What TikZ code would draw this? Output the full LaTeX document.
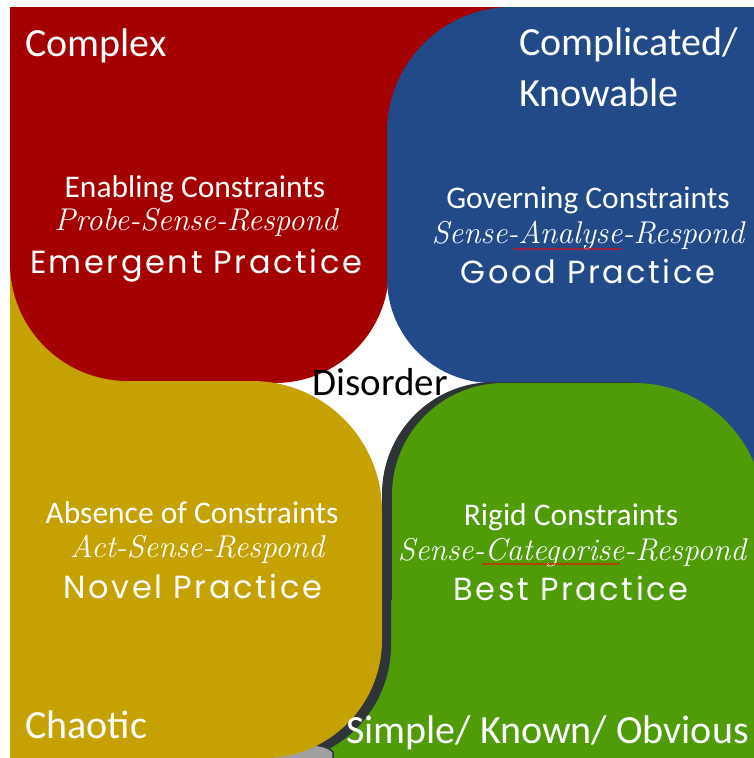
\documentclass[tikz,border=0pt]{standalone}
\usepackage{fontspec}
\usepackage{tikz}
\usetikzlibrary{decorations.pathmorphing}
\newfontfamily\calibrifont{Carlito}
\newfontfamily\chalkfont{Poppins}[LetterSpace=8]
\definecolor{complexred}{RGB}{165,0,0}
\definecolor{complicatedblue}{RGB}{34,74,136}
\definecolor{chaoticgold}{RGB}{198,161,2}
\definecolor{simplegreen}{RGB}{79,155,8}
\definecolor{shadowgrey}{RGB}{46,52,56}
\definecolor{blobgrey}{RGB}{160,160,160}
\tikzset{
	domainname/.style={text=white, inner sep=0pt, anchor=base west, font=\calibrifont\fontsize{40}{48}\selectfont},
	constraint/.style={text=white, inner sep=0pt, anchor=base, font=\calibrifont\fontsize{31.5}{36}\selectfont},
	approach/.style={text=white, inner sep=0pt, anchor=base, font=\itshape\fontsize{31.5}{36}\selectfont},
	practice/.style={text=white, inner sep=0pt, anchor=base, font=\chalkfont\fontsize{32}{38}\selectfont},
	spelling/.style={red, line width=0.6pt, decorate, decoration={snake, amplitude=0.8pt, segment length=3pt}}
}
% outlines of the domains (pixel units, y downwards)
\newcommand{\complexarea}{(10,7) -- (520,7) -- (520,200) -- (389,200) -- (389,269)
	arc[start angle=0, end angle=-90, radius=114pt] -- (128,381)
	arc[start angle=270, end angle=180, radius=118pt] -- cycle}
\newcommand{\complicatedarea}{(387,132) arc[start angle=180, end angle=90, radius=125pt]
	-- (760,7) -- (760,520) -- (600,520) -- (600,383) -- (492,383)
	arc[start angle=270, end angle=180, radius=105pt] -- cycle}
\newcommand{\simplearea}{(392,495) arc[start angle=180, end angle=90, radius=112pt]
	-- (634,383) arc[start angle=90, end angle=0, radius=130pt]
	-- (764,765) -- (250,765) -- (250,600) -- (392,600) -- cycle}
\newcommand{\chaoticarea}{(10,381) -- (252,381) arc[start angle=90, end angle=0, radius=130pt]
	-- (382,640) arc[start angle=0, end angle=-90, radius=118pt] -- (10,758) -- cycle}
\begin{document}
\begin{tikzpicture}[x=1pt, y=-1pt]
	\useasboundingbox (0,0) rectangle (754,758);
	% domains
	\fill[chaoticgold] (10,250) rectangle (140,385);
	\fill[complexred] \complexarea;
	\fill[complicatedblue] \complicatedarea;
	\fill[shadowgrey, xshift=-10pt, yshift=1pt] \simplearea;
	\fill[simplegreen] \simplearea;
	\begin{scope}
		\clip \simplearea;
		\fill[shadowgrey, xshift=9pt, yshift=-5pt] \chaoticarea;
	\end{scope}
	\filldraw[fill=blobgrey, draw=shadowgrey, line width=1.5pt]
	(268,760) .. controls (285,744) and (322,740) .. (333,752) -- (333,760) -- cycle;
	\fill[chaoticgold] \chaoticarea;
	% domain names
	\node[domainname] (complex) at (25,56) {Complex};
	\node[domainname] (complicated) at (519,55) {Complicated/};
	\node[domainname] (knowable) at (519,106) {Knowable};
	\node[domainname] (chaotic) at (25,738) {Chaotic};
	\node[domainname] (simple) at (346,743) {Simple/ Known/ Obvious};
	\node[anchor=base, inner sep=0pt, font=\calibrifont\fontsize{39}{46}\selectfont] (disorder) at (380,395) {Disorder};
	% complex
	\node[constraint] (enabling) at (195,197) {Enabling Constraints};
	\node[approach] (probe) at (196,230) {Probe-Sense-Respond};
	\node[practice] (emergent) at (196,273) {Emergent Practice};
	% complicated
	\node[constraint] (governing) at (588,208) {Governing Constraints};
	\node[approach] (analyse) at (588,243) {Sense-Analyse-Respond};
	\node[practice] (good) at (588,283) {Good Practice};
	% chaotic
	\node[constraint] (absence) at (192,523) {Absence of Constraints};
	\node[approach] (act) at (197,557) {Act-Sense-Respond};
	\node[practice] (novel) at (193,598) {Novel Practice};
	% simple
	\node[constraint] (rigid) at (571,525) {Rigid Constraints};
	\node[approach] (categorise) at (572,560) {Sense-Categorise-Respond};
	\node[practice] (best) at (571,600) {Best Practice};
	% spell check marks
	\draw[spelling] (513,249) -- (622,249);
	\draw[spelling] (482,564) -- (620,564);
\end{tikzpicture}
\end{document}
